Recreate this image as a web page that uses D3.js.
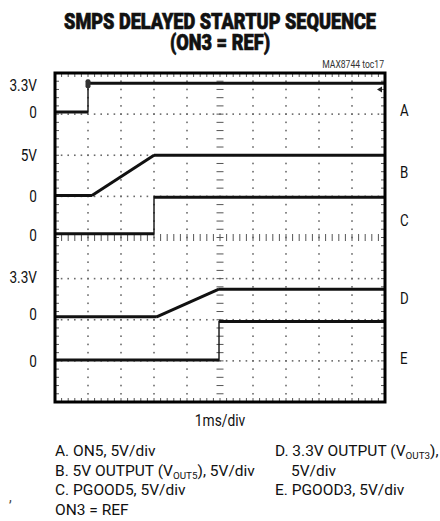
<!DOCTYPE html>
<html>
<head>
<meta charset="utf-8">
<script src="https://cdn.jsdelivr.net/npm/d3@7"></script>
<style>
  html, body { margin: 0; padding: 0; background: #fff; }
  #chart svg { display: block; }
</style>
</head>
<body>
<div id="chart"></div>
<script>
// Scope screen: 10 time divisions (1ms/div), 8 vertical divisions
const timeDivs = 10;
const voltDivs = 8;

// Trace breakpoints, time in divisions, level in divisions from the bottom
const traceA_t = [0, 1.0, 1.0, 10];
const traceA_v = [7.05, 7.05, 7.75, 7.75];
const traceB_t = [0, 1.12, 3.0, 10];
const traceB_v = [5.02, 5.02, 6.0, 6.0];
const traceC_t = [0, 3.0, 3.0, 10];
const traceC_v = [4.09, 4.09, 4.98, 4.98];
const traceD_t = [0, 3.08, 4.95, 10];
const traceD_v = [2.07, 2.07, 2.74, 2.74];
const traceE_t = [0, 4.97, 4.97, 10];
const traceE_v = [1.02, 1.02, 1.96, 1.96];

// Left level labels and their level (divisions)
const levelLabels = ["3.3V", "0", "5V", "0", "0", "3.3V", "0", "0"];
const levelValues = [7.72, 7.06, 6.02, 5.02, 4.06, 3.04, 2.14, 1.0];

// Right trace names
const traceNames = ["A", "B", "C", "D", "E"];
const traceNameLevels = [7.1, 5.6, 4.42, 2.52, 1.08];

const titleLines = ["SMPS DELAYED STARTUP SEQUENCE", "(ON3 = REF)"];
const noteText = "MAX8744 toc17";
const xAxisText = "1ms/div";

const legendLeft = [
  [["A. ON5, 5V/div"]],
  [["B. 5V OUTPUT (V"], ["OUT5", "sub"], ["), 5V/div"]],
  [["C. PGOOD5, 5V/div"]],
  [["ON3 = REF"]]
];
const legendRight = [
  [["D. 3.3V OUTPUT (V"], ["OUT3", "sub"], ["),"]],
  [["5V/div"]],
  [["E. PGOOD3, 5V/div"]]
];

try {
  const width = 440, height = 521;
  const frame = { left: 55, right: 385, top: 73, bottom: 402 };
  const font = "Roboto, 'Liberation Sans', Arial, sans-serif";

  const svg = d3.select("#chart").append("svg")
    .attr("width", width)
    .attr("height", height);

  const x = d3.scaleLinear().domain([0, timeDivs]).range([frame.left, frame.right]);
  const y = d3.scaleLinear().domain([0, voltDivs]).range([frame.bottom, frame.top]);

  // Graticule dots
  const minor = d3.range(0, timeDivs * 5 + 1).map(i => i / 5);
  const minorV = d3.range(0, voltDivs * 5 + 1).map(i => i / 5);
  const grid = svg.append("g").attr("fill", "#6a6a6a");
  d3.range(1, timeDivs).filter(t => t !== 5).forEach(t => {
    grid.selectAll(null).data(minorV).enter().append("rect")
      .attr("x", x(t) - 0.8).attr("y", d => y(d) - 0.8)
      .attr("width", 1.6).attr("height", 1.6);
  });
  d3.range(1, voltDivs).filter(v => v !== 4).forEach(v => {
    grid.selectAll(null).data(minor).enter().append("rect")
      .attr("x", d => x(d) - 0.8).attr("y", y(v) - 0.8)
      .attr("width", 1.6).attr("height", 1.6);
  });

  // Center axes with minor ticks
  const ticks = svg.append("g").attr("stroke", "#555").attr("stroke-width", 1);
  ticks.selectAll(null).data(minor).enter().append("line")
    .attr("x1", d => x(d)).attr("x2", d => x(d))
    .attr("y1", y(4) - 3.5).attr("y2", y(4) + 3.5);
  ticks.selectAll(null).data(minorV).enter().append("line")
    .attr("x1", x(5) - 3.5).attr("x2", x(5) + 3.5)
    .attr("y1", d => y(d)).attr("y2", d => y(d));
  // Edge ticks
  ticks.selectAll(null).data(minor).enter().append("line")
    .attr("x1", d => x(d)).attr("x2", d => x(d))
    .attr("y1", frame.top).attr("y2", frame.top + 4);
  ticks.selectAll(null).data(minor).enter().append("line")
    .attr("x1", d => x(d)).attr("x2", d => x(d))
    .attr("y1", frame.bottom - 4).attr("y2", frame.bottom);
  ticks.selectAll(null).data(minorV).enter().append("line")
    .attr("x1", frame.left).attr("x2", frame.left + 4)
    .attr("y1", d => y(d)).attr("y2", d => y(d));
  ticks.selectAll(null).data(minorV).enter().append("line")
    .attr("x1", frame.right - 4).attr("x2", frame.right)
    .attr("y1", d => y(d)).attr("y2", d => y(d));

  // Traces
  const traces = [
    [traceA_t, traceA_v], [traceB_t, traceB_v], [traceC_t, traceC_v],
    [traceD_t, traceD_v], [traceE_t, traceE_v]
  ].map(([t, v]) => t.map((d, i) => [d, v[i]]));

  const line = d3.line().x(d => x(d[0])).y(d => y(d[1]));
  const traceG = svg.append("g").attr("fill", "none").attr("stroke", "#111");
  traces.forEach(pts => {
    traceG.append("path").attr("d", line(pts)).attr("stroke-width", 1.4);
    // noisy-looking flat and ramp parts are thicker
    const segs = d3.pairs(pts).filter(([a, b]) => a[0] !== b[0]);
    segs.forEach(s => {
      traceG.append("path").attr("d", line(s)).attr("stroke-width", 3)
        .attr("stroke-linecap", "butt");
    });
  });

  // Trigger marker on A edge and right-side level arrow
  svg.append("rect")
    .attr("x", x(traceA_t[1]) - 2.5).attr("y", y(traceA_v[2]) - 4)
    .attr("width", 5).attr("height", 9).attr("rx", 2)
    .attr("fill", "#333");
  svg.append("path")
    .attr("d", `M${frame.right - 8},${y(7.6)} l5,-3 l0,6 z`)
    .attr("fill", "#222");

  // Frame
  svg.append("rect")
    .attr("x", frame.left).attr("y", frame.top)
    .attr("width", frame.right - frame.left).attr("height", frame.bottom - frame.top)
    .attr("fill", "none").attr("stroke", "#000").attr("stroke-width", 3);

  // Text helpers
  function squeezed(txt, px, py, size, sx, anchor, extra) {
    const t = svg.append("text")
      .attr("transform", `translate(${px},${py}) scale(${sx},1)`)
      .attr("text-anchor", anchor)
      .style("font-family", font)
      .style("font-size", size + "px")
      .attr("fill", "#111")
      .text(txt);
    if (extra) extra(t);
    return t;
  }

  // Title (heavy condensed look), both lines in one text element
  const title = svg.append("text")
    .attr("text-anchor", "middle")
    .style("font-family", font)
    .style("font-size", "22px")
    .style("font-weight", 900)
    .attr("fill", "#111").attr("stroke", "#111").attr("stroke-width", 0.7);
  const tl1 = title.append("tspan").attr("x", 0).attr("y", 0).text(titleLines[0]);
  title.append("tspan").attr("x", 0).attr("y", 21).text(titleLines[1]);
  const sxTitle = 312 / tl1.node().getComputedTextLength();
  title.attr("transform", `translate(220,29) scale(${sxTitle},1)`);

  squeezed(noteText, 384, 68, 10, 0.86, "end", t => t.attr("fill", "#333"));

  // Left level labels
  levelLabels.forEach((lab, i) => {
    squeezed(lab, 37, y(levelValues[i]), 17, 0.8, "end", t => t.attr("dy", "0.36em"));
  });
  // Right trace names
  traceNames.forEach((lab, i) => {
    squeezed(lab, 400, y(traceNameLevels[i]), 17, 0.78, "start", t => t.attr("dy", "0.36em"));
  });

  squeezed(xAxisText, 220, 426, 17, 0.81, "middle");

  // Legend
  function legendLine(parts, px, py) {
    const t = svg.append("text")
      .attr("transform", `translate(${px},${py})`)
      .style("font-family", font)
      .style("font-size", "15px")
      .attr("fill", "#111");
    parts.forEach(p => {
      if (p[1] === "sub") {
        t.append("tspan").attr("dy", 3).style("font-size", "9.5px").text(p[0]);
      } else {
        t.append("tspan").attr("dy", t.selectAll("tspan").size() ? -3 : 0).text(p[0]);
      }
    });
    return t;
  }
  const legendRows = [459, 478.5, 498, 517.5];
  const leftTexts = legendLeft.map((parts, i) => legendLine(parts, 55, legendRows[i]));
  const rightTexts = legendRight.map((parts, i) => legendLine(parts, i === 1 ? 291 : 275, legendRows[i]));
  const sxLegend = 200 / leftTexts[1].node().getComputedTextLength();
  leftTexts.forEach((t, i) => t.attr("transform", `translate(55,${legendRows[i]}) scale(${sxLegend},1)`));
  rightTexts.forEach((t, i) => t.attr("transform", `translate(${i === 1 ? 291 : 275},${legendRows[i]}) scale(${sxLegend},1)`));

  // stray marks at left edge
  svg.append("text").attr("x", 9).attr("y", 502)
    .style("font-family", font).style("font-size", "14px").attr("fill", "#444").text(",");

} catch (error) {
  console.error('Error rendering chart:', error);
  document.getElementById('chart').innerHTML = `<p style="color:red">Error: ${error.message}</p>`;
}
</script>
</body>
</html>
